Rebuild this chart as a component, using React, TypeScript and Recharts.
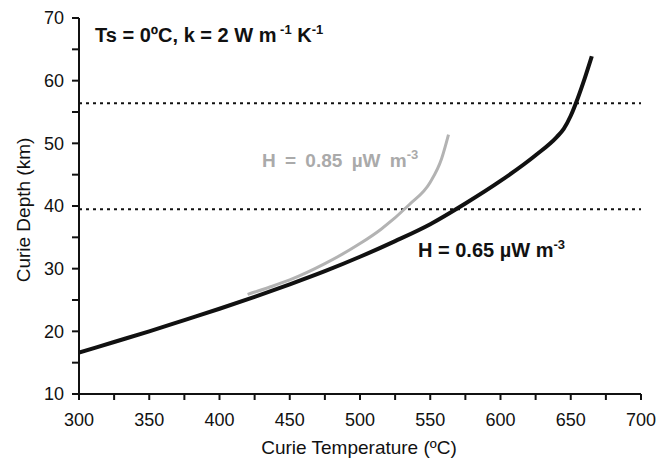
import React from "react";
import {
  LineChart,
  Line,
  XAxis,
  YAxis,
  ReferenceLine,
} from "recharts";

// Curie depth vs Curie temperature for two heat production values
const H065_TEMP = [300, 325, 350, 375, 400, 425, 450, 475, 500, 525, 550, 575, 600, 625, 640, 645, 650, 655, 660, 665];
const H065_DEPTH = [16.6, 18.3, 20.0, 21.8, 23.6, 25.5, 27.5, 29.6, 31.9, 34.4, 37.1, 40.4, 44.0, 48.1, 51.0, 52.3, 54.4, 57.2, 60.4, 63.9];

const H085_TEMP = [420, 435, 450, 475, 500, 515, 535, 550, 558, 563];
const H085_DEPTH = [25.9, 27.0, 28.2, 30.8, 34.0, 36.3, 40.2, 43.8, 47.5, 51.4];

const DOTTED_DEPTHS = [56.4, 39.5];

const X_TICKS = [300, 325, 350, 375, 400, 425, 450, 475, 500, 525, 550, 575, 600, 625, 650, 675, 700];
const Y_TICKS = [10, 15, 20, 25, 30, 35, 40, 45, 50, 55, 60, 65, 70];

const h065 = H065_TEMP.map((t, i) => ({ t, d: H065_DEPTH[i] }));
const h085 = H085_TEMP.map((t, i) => ({ t, d: H085_DEPTH[i] }));

const FONT = "'Liberation Sans', Arial, sans-serif";

export default function App() {
  const tickStyle = { fill: "#111", fontSize: 18, fontFamily: FONT };
  return (
    <div style={{ position: "absolute", left: 0, top: 0, width: 660, height: 459, background: "#fff" }}>
      <LineChart
        width={660}
        height={459}
        margin={{ top: 18, right: 19, bottom: 0, left: 0 }}
      >
        <XAxis
          dataKey="t"
          type="number"
          domain={[300, 700]}
          ticks={X_TICKS}
          interval={0}
          allowDataOverflow
          height={65}
          stroke="#111"
          strokeWidth={2}
          tickSize={6}
          tickMargin={13}
          tick={tickStyle}
          tickFormatter={(v: number) => (v % 50 === 0 ? String(v) : "")}
        />
        <YAxis
          dataKey="d"
          type="number"
          domain={[10, 70]}
          ticks={Y_TICKS}
          interval={0}
          allowDataOverflow
          width={79}
          stroke="#111"
          strokeWidth={2}
          tickSize={7}
          tickMargin={8}
          tick={tickStyle}
          tickFormatter={(v: number) => (v % 10 === 0 ? String(v) : "")}
        />
        {DOTTED_DEPTHS.map((d) => (
          <ReferenceLine
            key={d}
            y={d}
            stroke="#111"
            strokeWidth={2}
            strokeDasharray="3 4"
          />
        ))}
        <Line
          data={h085}
          dataKey="d"
          type="monotone"
          stroke="#b3b3b3"
          strokeWidth={3}
          dot={false}
          isAnimationActive={false}
        />
        <Line
          data={h065}
          dataKey="d"
          type="monotone"
          stroke="#111"
          strokeWidth={4}
          dot={false}
          isAnimationActive={false}
        />
      </LineChart>

      {/* titles and annotations */}
      <svg
        width={660}
        height={459}
        style={{ position: "absolute", left: 0, top: 0, pointerEvents: "none" }}
        fontFamily={FONT}
      >
        <text x={95} y={42} fontSize={20} fontWeight="bold" fill="#111">
          Ts = 0ºC, k = 2 W m
          <tspan fontSize={13} dy={-8}> -1</tspan>
          <tspan dy={8}> K</tspan>
          <tspan fontSize={13} dy={-8}>-1</tspan>
        </text>
        <text x={262} y={167} fontSize={19} fontWeight="bold" fill="#aaaaaa" wordSpacing={4}>
          H = 0.85 µW m
          <tspan fontSize={13} dy={-8}>-3</tspan>
        </text>
        <text x={418} y={257} fontSize={20} fontWeight="bold" fill="#111">
          H = 0.65 µW m
          <tspan fontSize={13} dy={-8}>-3</tspan>
        </text>
        <text
          x={359}
          y={454}
          fontSize={19}
          textAnchor="middle"
          fill="#111"
        >
          Curie Temperature (ºC)
        </text>
        <text
          transform="translate(30, 210) rotate(-90)"
          fontSize={19}
          textAnchor="middle"
          fill="#111"
        >
          Curie Depth (km)
        </text>
      </svg>
    </div>
  );
}
